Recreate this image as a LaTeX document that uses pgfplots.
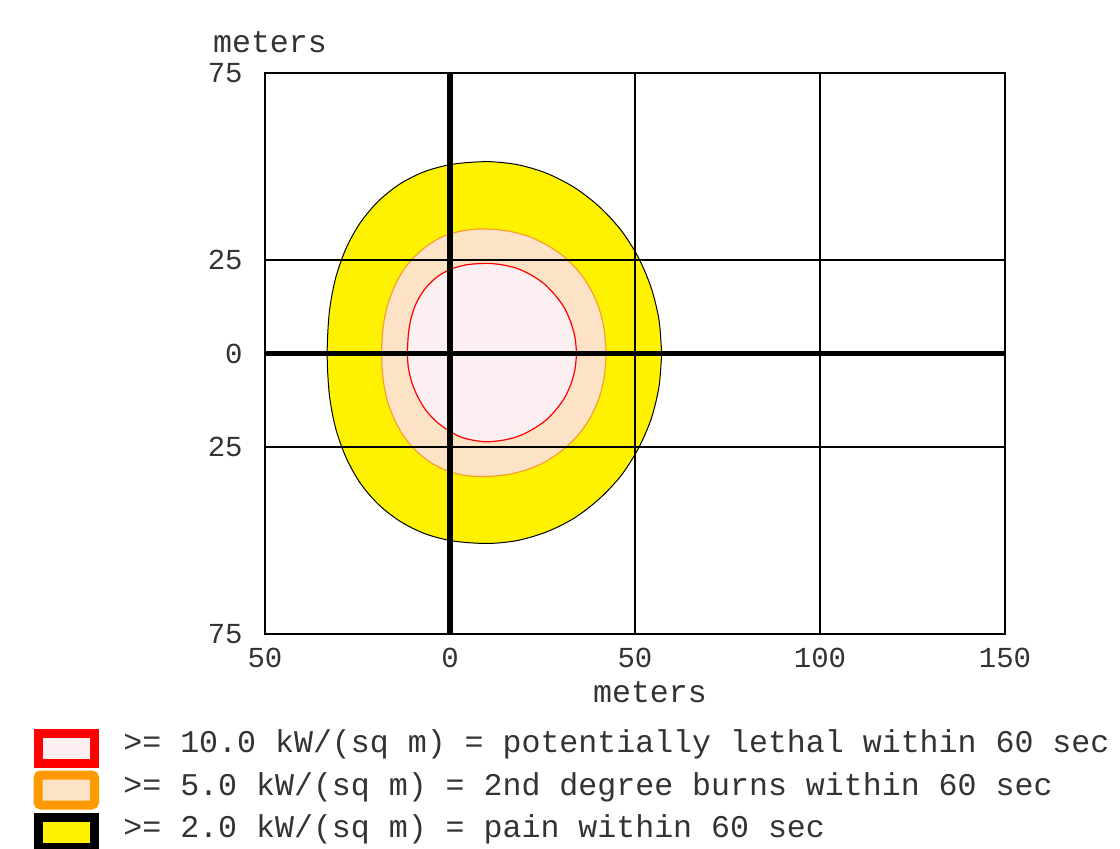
\documentclass[border=0pt]{standalone}
\usepackage{pgfplots}
\pgfplotsset{compat=1.18}
\usepackage{fontspec}
\setmainfont{Liberation Mono}
\definecolor{peach}{HTML}{FDE3C6}
\definecolor{pinkfill}{HTML}{FCEFF1}
\definecolor{orng}{HTML}{FF9900}
\definecolor{orngline}{HTML}{F5A030}
\definecolor{txt}{HTML}{333333}
\begin{document}
\begin{tikzpicture}[x=1pt,y=1pt]
\path[use as bounding box] (0,0) rectangle (560,424);
\begin{axis}[
  at={(132.5pt,107pt)}, anchor=south west,
  scale only axis, width=370pt, height=280.5pt,
  xmin=-50, xmax=150, ymin=-75, ymax=75,
  xtick={-50,0,50,100,150}, xticklabels={50,0,50,100,150},
  ytick={-75,-25,0,25,75}, yticklabels={75,25,0,25,75},
  grid=major, grid style={black, line width=0.6pt},
  major tick length=0pt,
  axis line style={black, line width=0.7pt},
  axis on top,
  /pgf/number format/assume math mode=true,
  tick label style={font=\fontsize{14.5}{17}\selectfont, text=txt},
  xticklabel style={anchor=center, yshift=-12pt},
  yticklabel style={anchor=east, inner sep=0pt, xshift=-11pt},
]
% >= 2.0 kW/(sq m)
\addplot[draw=black, line width=0.5pt, fill=yellow, smooth, line join=round] coordinates {
(57.2,0) (56.5,8.9) (54.4,17.5) (50.9,25.7) (46.2,33.0) (40.3,39.3) (33.6,44.4)
(26.1,48.2) (18.2,50.5) (10,51.3)
(0.6,50.6) (-7.0,48.6) (-13.6,45.3) (-19.4,40.7) (-24.3,34.9) (-28.1,28.1)
(-30.9,20.2) (-32.6,11.2) (-33.2,0)
(-32.6,-11.1) (-30.9,-20.0) (-28.1,-27.8) (-24.3,-34.6) (-19.4,-40.3)
(-13.6,-44.8) (-7.0,-48.1) (0.6,-50.1) (10,-50.8)
(18.2,-50.0) (26.1,-47.7) (33.6,-44.0) (40.3,-38.9) (46.2,-32.7) (50.9,-25.4)
(54.4,-17.4) (56.5,-8.8) (57.2,0)
};
% >= 5.0 kW/(sq m)
\addplot[draw=orngline, line width=0.6pt, fill=peach, smooth, line join=round] coordinates {
(42.2,0) (41.7,6.3) (40.3,12.0) (38.0,17.2) (34.8,21.9) (30.8,25.9) (26.2,29.0)
(21.0,31.4) (15.3,32.8) (9,33.3)
(3.4,32.8) (-1.4,31.5) (-5.6,29.2) (-9.4,26.1) (-12.6,22.3) (-15.1,17.7)
(-17.0,12.5) (-18.1,6.8) (-18.5,0)
(-18.1,-6.7) (-17.0,-12.4) (-15.1,-17.5) (-12.6,-22.0) (-9.4,-25.8)
(-5.6,-28.9) (-1.4,-31.1) (3.4,-32.5) (9,-32.9)
(15.3,-32.4) (21.0,-31.0) (26.2,-28.7) (30.8,-25.5) (34.8,-21.6) (38.0,-17.0)
(40.3,-11.9) (41.7,-6.2) (42.2,0)
};
% >= 10.0 kW/(sq m)
\addplot[draw=red, line width=0.6pt, fill=pinkfill, smooth, line join=round] coordinates {
(34.2,0) (33.8,4.2) (32.7,8.2) (31.0,12.05) (28.5,15.5) (25.6,18.5) (22.1,20.9)
(18.3,22.7) (14.2,23.7) (10,24.1)
(5.0,23.8) (1.2,22.9) (-2.1,21.4) (-4.9,19.3) (-7.2,16.7) (-9.1,13.5)
(-10.4,9.9) (-11.2,5.6) (-11.5,0)
(-11.2,-4.1) (-10.2,-8.1) (-8.6,-11.8) (-6.5,-15.2) (-3.8,-18.1)
(-0.75,-20.4) (2.6,-22.2) (6.3,-23.2) (10,-23.6)
(14.2,-23.2) (18.3,-22.2) (22.1,-20.4) (25.6,-18.1) (28.5,-15.2) (31.0,-11.8)
(32.7,-8.1) (33.8,-4.1) (34.2,0)
};
\draw[black, line width=2.6pt] (axis cs:0,-75) -- (axis cs:0,75);
\draw[black, line width=2.6pt] (axis cs:-50,0) -- (axis cs:150,0);
\end{axis}
\node[text=txt, font=\fontsize{15.8}{18}\selectfont] at (325,78) {meters};
\node[text=txt, font=\fontsize{15.8}{18}\selectfont] at (135,403) {meters};
% legend
\draw[red, line width=4.5pt, fill=pinkfill] (19,42.5) rectangle (47.25,57.5);
\draw[orng, line width=4.5pt, fill=peach, rounded corners=1.5pt] (19,21.5) rectangle (47.25,36.5);
\draw[black, line width=4.5pt, fill=yellow] (19,0.5) rectangle (47.25,15.5);
\begin{scope}[every node/.style={anchor=base west, inner sep=0pt, text=txt, font=\fontsize{15.8}{18}\selectfont}]
\node at (61.5,48) {>= 10.0 kW/(sq m) = potentially lethal within 60 sec};
\node at (61.5,26.5) {>= 5.0 kW/(sq m) = 2nd degree burns within 60 sec};
\node at (61.5,5.5) {>= 2.0 kW/(sq m) = pain within 60 sec};
\end{scope}
\end{tikzpicture}
\end{document}
